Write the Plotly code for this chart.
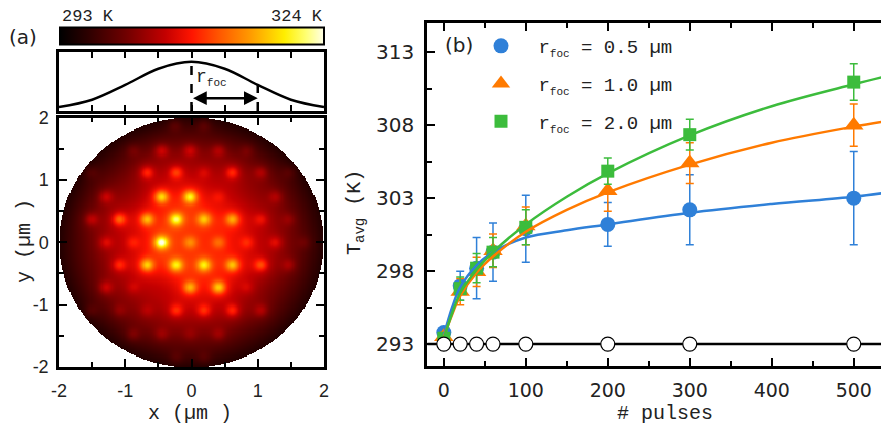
import numpy as np
import plotly.graph_objects as go

# ---------------- panel (b) data ----------------
pulses = [0, 20, 40, 60, 100, 200, 300, 500]
T_05 = [293.8, 297.0, 298.2, 299.3, 300.9, 301.2, 302.2, 303.0]
err_05 = [0.3, 1.0, 2.1, 2.0, 2.3, 1.5, 2.4, 3.2]
T_10 = [293.5, 296.6, 297.95, 299.4, 301.1, 303.5, 305.4, 308.0]
err_10 = [0.3, 0.9, 1.0, 1.15, 1.3, 1.4, 1.4, 1.45]
T_20 = [293.4, 296.8, 298.2, 299.3, 301.0, 304.85, 307.35, 310.95]
err_20 = [0.2, 0.8, 1.0, 1.0, 1.2, 0.9, 1.05, 1.25]
T_base = [293, 293, 293, 293, 293, 293, 293, 293]

fit_pulses = [0, 10, 20, 40, 60, 100, 150, 200, 300, 400, 500, 543]
fit_05 = [293.6, 295.5, 296.9, 298.4, 299.3, 300.3, 300.8, 301.2, 302.0, 302.6, 303.1, 303.4]
fit_10 = [293.5, 295.0, 296.3, 297.9, 299.0, 300.7, 302.2, 303.4, 305.3, 306.8, 307.9, 308.3]
fit_20 = [293.4, 295.1, 296.5, 298.1, 299.3, 301.2, 303.1, 304.7, 307.3, 309.3, 310.8, 311.4]

SUB = "<sub><span style='font-size:11px'>foc</span></sub>"
GAP = "\u00a0<span style='font-size:10px'>\u00a0</span>"
series_labels = ["r" + SUB + " = 0.5 µm", "r" + SUB + " = 1.0 µm", "r" + SUB + " = 2.0 µm"]
series_colors = ["#2f80d8", "#ff7a00", "#3cbc3c"]
series_symbols = ["circle", "triangle-up", "square"]
series_sizes = [15, 17, 13]

yticks_b = [293, 298, 303, 308, 313]

# ---------------- panel (a) data ----------------
T_min, T_max = 293, 324
spot_x = [-0.25, 0.19,
          -0.88, -0.45, -0.02, 0.41, 0.84,
          -1.51, -0.67, -0.23, 0.19, 0.62, 1.05, 1.47,
          -1.29, -0.45, -0.02, 0.41, 1.27,
          -1.51, -1.09, -0.67, -0.23, 0.19, 0.62, 1.05, 1.47,
          -1.29, -0.88, -0.45, -0.02, 0.41, 0.84, 1.27, 1.70,
          -1.09, -0.67, -0.23, 0.19, 0.62, 1.05, 1.47,
          -1.29, -0.88, -0.02, 0.41, 0.84,
          -1.51, -1.09, -0.67, -0.23, 0.19, 0.62, 1.05,
          -0.88, -0.45, -0.02, 0.41,
          -0.23, 0.19]
spot_y = [1.87, 1.87,
          1.47, 1.47, 1.47, 1.47, 1.47,
          1.12, 1.12, 1.12, 1.12, 1.12, 1.12, 1.12,
          0.73, 0.73, 0.73, 0.73, 0.73,
          0.37, 0.37, 0.37, 0.37, 0.37, 0.37, 0.37, 0.37,
          0.0, 0.0, 0.0, 0.0, 0.0, 0.0, 0.0, 0.0,
          -0.36, -0.36, -0.36, -0.36, -0.36, -0.36, -0.36,
          -0.72, -0.72, -0.72, -0.72, -0.72,
          -1.09, -1.09, -1.09, -1.09, -1.09, -1.09, -1.09,
          -1.47, -1.47, -1.47, -1.47,
          -1.84, -1.84]
spot_amp = [2.5, 2.5,
            2.5, 5.5, 5, 4, 2.5,
            2, 7, 7, 3, 7, 4, 2,
            5, 13, 14, 2.5, 3.5,
            5, 9, 11, 14, 10, 10, 4, 2.5,
            4.5, 3.5, 17, 6, 5, 4, 4.5, 2,
            6, 12, 12, 12, 11, 7.5, 3.5,
            5, 2.5, 10, 12, 2.5,
            2, 2.5, 2.5, 6, 6, 6.5, 4,
            3, 3, 2, 3,
            2, 2]
spot_core, spot_halo = 0.07, 0.15
bg_r = [0, 0.5, 1.0, 1.5, 1.8, 2.0]
bg_T = [308.5, 307.5, 304.5, 300.5, 297.5, 295.5]

profile_x = [-2, -1.5, -1, -0.5, 0, 0.5, 1, 1.5, 2]
profile_y = [0.08, 0.23, 0.53, 0.86, 1.0, 0.86, 0.53, 0.23, 0.08]
r_foc = 1.0
r_foc_level = 0.53

hot_scale = [[0.0, "#000000"], [0.1, "#2a0000"], [0.25, "#700000"], [0.4, "#c40000"],
             [0.5, "#ff1500"], [0.6, "#ff5500"], [0.72, "#ff9a00"], [0.85, "#ffee00"],
             [0.93, "#ffff70"], [1.0, "#ffffe8"]]

# ---------------- build temperature map ----------------
grid = np.linspace(-2, 2, 241)
GX, GY = np.meshgrid(grid, grid)
GR = np.hypot(GX, GY)
Tmap = np.interp(GR, bg_r, bg_T)
for sx, sy, sa in zip(spot_x, spot_y, spot_amp):
    d2 = (GX - sx) ** 2 + (GY - sy) ** 2
    Tmap = Tmap + sa * (0.75 * np.exp(-d2 / (2 * spot_core ** 2)) + 0.25 * np.exp(-d2 / (2 * spot_halo ** 2)))
Tmap = np.clip(Tmap, T_min, T_max)
Tmap[GR > 2.0] = np.nan

# page body has an 8px margin: lay out in screen pixels, offset by it
OFF = 8
W, H = 889 - OFF, 428 - OFF
def px(xp):
    return (xp - OFF) / W
def py(yp):
    return 1 - (yp - OFF) / H

fig = go.Figure()

fig.add_trace(go.Heatmap(
    x=grid, y=grid, z=Tmap, colorscale=hot_scale, zmin=T_min, zmax=T_max,
    xaxis="x", yaxis="y", hoverinfo="skip",
    colorbar=dict(orientation="h", x=px(192), xanchor="center", y=py(37), yanchor="middle",
                  len=264, lenmode="pixels", thickness=17, thicknessmode="pixels",
                  outlinewidth=2, outlinecolor="black", showticklabels=False, ticks="",
                  xpad=0, ypad=0)))

# profile panel
fig.add_trace(go.Scatter(x=profile_x, y=profile_y, mode="lines", line=dict(color="black", width=2.5, shape="spline"),
                         xaxis="x2", yaxis="y2", showlegend=False))
fig.add_trace(go.Scatter(x=[0, 0], y=[0, max(profile_y)], mode="lines",
                         line=dict(color="black", width=2.5, dash="dash"), xaxis="x2", yaxis="y2", showlegend=False))
fig.add_trace(go.Scatter(x=[r_foc, r_foc], y=[0, r_foc_level], mode="lines",
                         line=dict(color="black", width=2.5, dash="dash"), xaxis="x2", yaxis="y2", showlegend=False))

# panel (b) points
for T, e, c, s, sz in zip([T_05, T_10, T_20], [err_05, err_10, err_20], series_colors, series_symbols, series_sizes):
    fig.add_trace(go.Scatter(x=pulses, y=T, mode="markers",
                             marker=dict(color=c, symbol=s, size=sz, line=dict(width=0)),
                             error_y=dict(type="data", array=e, color=c, thickness=1.5, width=4),
                             xaxis="x3", yaxis="y3", showlegend=False))
for F, c in zip([fit_05, fit_10, fit_20], series_colors):
    fig.add_trace(go.Scatter(x=fit_pulses, y=F, mode="lines", line=dict(color=c, width=2.5, shape="spline"),
                             xaxis="x3", yaxis="y3", showlegend=False))
fig.add_trace(go.Scatter(x=[-20, 543], y=[T_base[0], T_base[0]], mode="lines", line=dict(color="black", width=2.5),
                         xaxis="x3", yaxis="y3", showlegend=False))
fig.add_trace(go.Scatter(x=pulses, y=T_base, mode="markers",
                         marker=dict(color="white", size=14, line=dict(color="black", width=1.2)),
                         xaxis="x3", yaxis="y3", showlegend=False))
# legend entries
for i, (lab, c, s, sz) in enumerate(zip(series_labels, series_colors, series_symbols, series_sizes)):
    fig.add_trace(go.Scatter(x=[None], y=[None], mode="markers", name=GAP + lab,
                             marker=dict(color=c, symbol=s, size=sz), legendgroup=str(i),
                             xaxis="x3", yaxis="y3"))

axis_common = dict(showline=True, linecolor="black", linewidth=2.5, mirror="ticks", ticks="inside",
                   tickcolor="black", tickwidth=2, showgrid=False, zeroline=False)

mono = "Liberation Mono"
sans = "DejaVu Sans"

fig.update_layout(
    width=W, height=H, margin=dict(l=0, r=0, t=0, b=0, autoexpand=False),
    paper_bgcolor="white", plot_bgcolor="white",
    xaxis=dict(domain=[px(59), px(324)], range=[-2, 2], anchor="y", ticklen=8,
               tickvals=[-2, -1, 0, 1, 2], ticktext=["-2", "-1", "0", "1", "2"],
               minor=dict(dtick=0.5, ticklen=5, ticks="inside", tickcolor="black", tickwidth=2),
               tickfont=dict(family="Liberation Sans", size=18, color="#222"), ticklabelstandoff=6,
               **axis_common),
    yaxis=dict(domain=[py(367), py(117.5)], range=[-2, 2], anchor="x", ticklen=8,
               tickvals=[-2, -1, 0, 1, 2], ticktext=["-2", "-1", "0", "1", "2"],
               minor=dict(dtick=0.5, ticklen=5, ticks="inside", tickcolor="black", tickwidth=2),
               tickfont=dict(family="Liberation Sans", size=18, color="#222"), ticklabelstandoff=4,
               **axis_common),
    xaxis2=dict(domain=[px(59), px(324)], range=[-2, 2], anchor="y2", ticklen=6, dtick=0.5,
                showticklabels=False, **axis_common),
    yaxis2=dict(domain=[py(111), py(52)], range=[0, 1.2], anchor="x2", showline=True, linecolor="black",
                linewidth=2.5, mirror=True, ticks="", showticklabels=False, showgrid=False, zeroline=False),
    xaxis3=dict(domain=[px(427), 1.0], range=[-20.5, 543], anchor="y3", ticklen=8,
                tickvals=[0, 100, 200, 300, 400, 500],
                minor=dict(dtick=50, ticklen=5, ticks="inside", tickcolor="black", tickwidth=2),
                tickfont=dict(family=sans, size=19, color="#222"), ticklabelstandoff=5,
                **axis_common),
    yaxis3=dict(domain=[py(366), py(23)], range=[291.5, 315], anchor="x3", ticklen=8,
                tickvals=yticks_b,
                minor=dict(tickvals=[295.5, 300.5, 305.5, 310.5], ticklen=5, ticks="inside", tickcolor="black", tickwidth=2),
                tickfont=dict(family=sans, size=20, color="#222"), ticklabelstandoff=6,
                **axis_common),
    showlegend=True,
    legend=dict(x=px(481), y=py(27), xanchor="left", yanchor="top", bgcolor="rgba(0,0,0,0)",
                font=dict(family=mono, size=19, color="#222"), tracegroupgap=10, itemsizing="trace",
                traceorder="grouped"),
)

ann = [
    dict(text="293 K", x=px(60), y=py(16), xanchor="left", font=dict(family=mono, size=17)),
    dict(text="324 K", x=px(325), y=py(16), xanchor="right", font=dict(family=mono, size=17)),
    dict(text="(a)", x=px(23), y=py(37), font=dict(family=sans, size=20)),
    dict(text="(b)", x=px(459), y=py(45), font=dict(family=sans, size=20)),
    dict(text="x (µm )", x=px(190), y=py(413), font=dict(family=mono, size=20)),
    dict(text="y (µm )", x=px(24), y=py(241), textangle=-90, font=dict(family=mono, size=20)),
    dict(text="T<sub>avg</sub> (K)", x=px(355), y=py(213), textangle=-90, font=dict(family=mono, size=20)),
    dict(text="# pulses", x=px(665), y=py(413), font=dict(family=mono, size=20)),
]
for a in ann:
    a.setdefault("xanchor", "center")
    a.update(xref="paper", yref="paper", showarrow=False, yanchor="middle")
    a["font"]["color"] = "#222"
    fig.add_annotation(**a)

fig.add_annotation(x=r_foc, y=0.26, ax=0, ay=0.26, xref="x2", yref="y2", axref="x2", ayref="y2",
                   text="", showarrow=True, arrowhead=2, arrowside="end+start", arrowsize=1.1,
                   arrowwidth=2.5, arrowcolor="black")
fig.add_annotation(x=0.3, y=0.68, xref="x2", yref="y2", text="r" + SUB, showarrow=False,
                   xanchor="center", yanchor="middle",
                   font=dict(family=mono, size=18, color="#222"))

fig.write_html("out.html")
